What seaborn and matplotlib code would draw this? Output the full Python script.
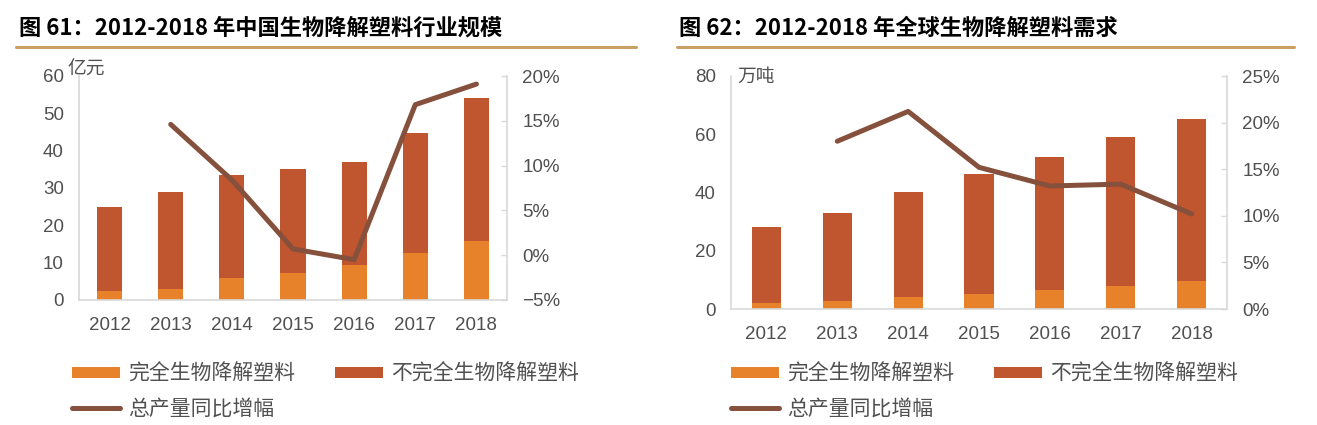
import numpy as np
import pandas as pd
import matplotlib
matplotlib.use('Agg')
import matplotlib.pyplot as plt
from matplotlib.patches import Patch
from matplotlib.lines import Line2D
from matplotlib.ticker import FuncFormatter
import seaborn as sns

# データ
years = ['2012', '2013', '2014', '2015', '2016', '2017', '2018']

# 図61 中国（亿元）
cn_full = [2.5, 3.0, 5.9, 7.2, 9.5, 12.5, 15.7]
cn_partial = [22.4, 25.8, 27.6, 27.8, 27.5, 32.1, 38.4]
cn_growth = [14.6, 8.4, 0.7, -0.5, 16.8, 19.1]   # 2013-2018

# 図62 世界（万吨）
gl_full = [1.9, 2.6, 4.1, 5.3, 6.6, 8.0, 9.5]
gl_partial = [26.1, 30.4, 36.0, 40.9, 45.6, 51.2, 55.9]
gl_growth = [18.0, 21.2, 15.2, 13.2, 13.4, 10.2]  # 2013-2018

titles = ['图 61：2012-2018 年中国生物降解塑料行业规模',
          '图 62：2012-2018 年全球生物降解塑料需求']
units = ['亿元', '万吨']
legend_labels = ['完全生物降解塑料', '不完全生物降解塑料', '总产量同比增幅']

C_FULL = '#E8822A'
C_PART = '#C0562F'
C_LINE = '#85503C'
C_GRID = '#D9D9D9'
C_TEXT = '#505050'
C_RULE = '#C9A063'

sns.set_theme(style='white')
plt.rcParams['font.family'] = ['Liberation Sans', 'Noto Sans CJK SC', 'DejaVu Sans']

W, H = 1317, 425
fig = plt.figure(figsize=(W / 100, H / 100), dpi=100)


def px_axes(x0, x1, ytop, ybot):
    return fig.add_axes([x0 / W, 1 - ybot / H, (x1 - x0) / W, (ybot - ytop) / H])


def pct(v, _):
    s = f'{v:.0f}%'
    return s.replace('-', '\u2212')


panels = [
    dict(box=(79, 507, 76, 300), full=cn_full, part=cn_partial, growth=cn_growth,
         ylim=(0, 60), yticks=[0, 10, 20, 30, 40, 50, 60],
         y2lim=(-5, 20), y2ticks=[-5, 0, 5, 10, 15, 20],
         title_x=19, rule=(16, 636), unit_xy=(67, 69), leg_x=72),
    dict(box=(731, 1227, 76, 309), full=gl_full, part=gl_partial, growth=gl_growth,
         ylim=(0, 80), yticks=[0, 20, 40, 60, 80],
         y2lim=(0, 25), y2ticks=[0, 5, 10, 15, 20, 25],
         title_x=679, rule=(677, 1294), unit_xy=(737, 76), leg_x=731),
]

for i, p in enumerate(panels):
    x0, x1, yt, yb = p['box']
    ax = px_axes(x0, x1, yt, yb)
    df = pd.DataFrame({'year': years, 'full': p['full'], 'part': p['part']})
    df['total'] = df['full'] + df['part']

    # 積み上げ棒グラフ
    sns.barplot(data=df, x='year', y='total', color=C_PART, width=0.41,
                saturation=1, linewidth=0, ax=ax)
    sns.barplot(data=df, x='year', y='full', color=C_FULL, width=0.41,
                saturation=1, linewidth=0, ax=ax)

    ax.set_ylim(*p['ylim'])
    ax.set_yticks(p['yticks'])
    ax.set_xlabel('')
    ax.set_ylabel('')
    ax.tick_params(axis='y', length=0, pad=11, labelsize=13.5, labelcolor=C_TEXT)
    ax.tick_params(axis='x', length=0, pad=12, labelsize=13.5, labelcolor=C_TEXT)
    for s in ['top', 'right']:
        ax.spines[s].set_visible(False)
    for s in ['left', 'bottom']:
        ax.spines[s].set_color(C_GRID)
        ax.spines[s].set_linewidth(1.2)

    # 同比増幅（右軸）
    ax2 = ax.twinx()
    gx = np.arange(1, len(years))
    sns.lineplot(x=gx, y=p['growth'], color=C_LINE, linewidth=3.6, ax=ax2)
    ax2.set_ylim(*p['y2lim'])
    ax2.set_yticks(p['y2ticks'])
    ax2.yaxis.set_major_formatter(FuncFormatter(pct))
    ax2.tick_params(axis='y', direction='in', length=4, width=1, color=C_GRID,
                    pad=11, labelsize=13.5, labelcolor=C_TEXT)
    for s in ['top', 'left', 'bottom']:
        ax2.spines[s].set_visible(False)
    ax2.spines['right'].set_color(C_GRID)
    ax2.spines['right'].set_linewidth(1.2)
    ax2.set_ylabel('')
    ax.set_xlim(-0.5, len(years) - 0.5)

    # 単位
    ux, uy = p['unit_xy']
    fig.text(ux / W, 1 - uy / H, units[i], fontsize=13.5, color=C_TEXT,
             family=['Noto Sans CJK SC'], ha='left', va='center')

    # タイトルと下線
    fig.text(p['title_x'] / W, 1 - 28 / H, titles[i], fontsize=16,
             fontweight='bold', color='black', family=['Noto Sans CJK SC'],
             ha='left', va='center')
    r0, r1 = p['rule']
    fig.add_artist(Line2D([r0 / W, r1 / W], [1 - 47 / H, 1 - 47 / H],
                          color=C_RULE, linewidth=2.2))

    # 凡例
    handles = [Patch(facecolor=C_FULL, edgecolor='none'),
               Line2D([0], [0], color=C_LINE, linewidth=3.6),
               Patch(facecolor=C_PART, edgecolor='none')]
    labels = [legend_labels[0], legend_labels[2], legend_labels[1]]
    fig.legend(handles, labels, loc='upper left',
               bbox_to_anchor=(p['leg_x'] / W, 1 - 363 / H),
               ncol=2, frameon=False, borderpad=0, borderaxespad=0,
               handlelength=2.3, handleheight=0.45, handletextpad=0.4,
               columnspacing=1.9, labelspacing=0.6,
               prop={'family': 'Noto Sans CJK SC', 'size': 15},
               labelcolor=C_TEXT)

fig.savefig('out.png', dpi=100)
